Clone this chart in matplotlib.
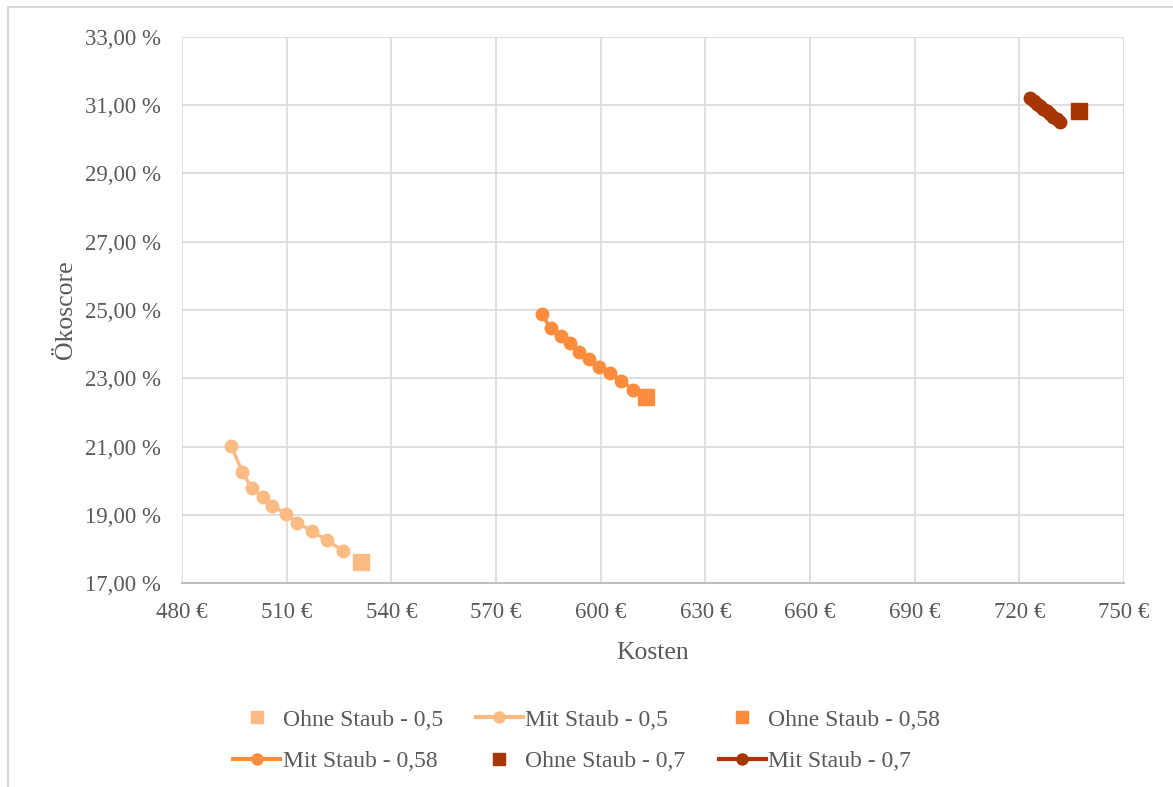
import matplotlib
matplotlib.use("Agg")
import matplotlib.pyplot as plt
from matplotlib.lines import Line2D
from matplotlib.ticker import FuncFormatter

plt.rcParams['font.family'] = ['Liberation Serif', 'DejaVu Serif']

# Kosten (EUR) und Ökoscore (%) je Variante
mit_05_kosten = [494.1, 497.3, 500.0, 503.1, 505.9, 509.8, 513.0, 517.2, 521.5, 526.1]
mit_05_score = [21.01, 20.25, 19.78, 19.52, 19.26, 19.02, 18.77, 18.52, 18.25, 17.95]
ohne_05_kosten = [531.2]
ohne_05_score = [17.62]

mit_058_kosten = [583.1, 585.7, 588.5, 591.2, 593.9, 596.7, 599.6, 602.7, 605.8, 609.4]
mit_058_score = [24.87, 24.46, 24.24, 24.02, 23.78, 23.57, 23.34, 23.15, 22.91, 22.67]
ohne_058_kosten = [613.0]
ohne_058_score = [22.46]

mit_07_kosten = [723.2, 724.1, 725.0, 726.0, 726.9, 727.8, 728.8, 729.8, 730.7, 731.6]
mit_07_score = [31.20, 31.12, 31.05, 30.97, 30.90, 30.82, 30.74, 30.67, 30.59, 30.52]
ohne_07_kosten = [737.1]
ohne_07_score = [30.84]

labels = ["Ohne Staub - 0,5", "Mit Staub - 0,5", "Ohne Staub - 0,58",
          "Mit Staub - 0,58", "Ohne Staub - 0,7", "Mit Staub - 0,7"]

hell = "#FDBB84"
mittel = "#FD8D3C"
dunkel = "#A63603"
textfarbe = "#595959"

fig = plt.figure(figsize=(11.73, 7.87), dpi=100)
ax = fig.add_axes([0.1552, 0.2592, 0.803, 0.6938])

# Rahmen links und oben
fig.add_artist(Line2D([0.007, 0.007], [0.0, 0.991], transform=fig.transFigure,
                      color="#D9D9D9", linewidth=1.5))
fig.add_artist(Line2D([0.007, 1.0], [0.991, 0.991], transform=fig.transFigure,
                      color="#D9D9D9", linewidth=1.5))

ax.plot(mit_05_kosten, mit_05_score, color=hell, lw=2.5, marker='o', ms=9, zorder=3)
ax.plot(ohne_05_kosten, ohne_05_score, color=hell, ls='none', marker='s', ms=12, zorder=3)
ax.plot(mit_058_kosten, mit_058_score, color=mittel, lw=2.5, marker='o', ms=9, zorder=3)
ax.plot(ohne_058_kosten, ohne_058_score, color=mittel, ls='none', marker='s', ms=12, zorder=3)
ax.plot(mit_07_kosten, mit_07_score, color=dunkel, lw=2.5, marker='o', ms=9, zorder=3)
ax.plot(ohne_07_kosten, ohne_07_score, color=dunkel, ls='none', marker='s', ms=12, zorder=3)

ax.set_xlim(480, 750)
ax.set_ylim(17, 33)
ax.set_xticks(range(480, 751, 30))
ax.set_yticks(range(17, 34, 2))
ax.xaxis.set_major_formatter(FuncFormatter(lambda v, p: f"{v:.0f} €"))
ax.yaxis.set_major_formatter(FuncFormatter(lambda v, p: f"{v:.2f} %".replace('.', ',')))
ax.grid(True, color="#D9D9D9", linewidth=1.2)
ax.set_axisbelow(True)
for s in ['top', 'right', 'left']:
    ax.spines[s].set_visible(False)
ax.spines['bottom'].set_color("#BFBFBF")
ax.spines['bottom'].set_linewidth(1.5)
ax.tick_params(axis='y', length=0, labelsize=16.5, colors=textfarbe, pad=15)
ax.tick_params(axis='x', length=0, labelsize=16.5, colors=textfarbe, pad=14)
ax.set_xlabel("Kosten", fontsize=18.5, color=textfarbe, labelpad=13)
ax.set_ylabel("Ökoscore", fontsize=18.5, color=textfarbe, labelpad=6)

# Legende zeilenweise anordnen
handles = [
    Line2D([], [], color=hell, ls='none', marker='s', ms=9),
    Line2D([], [], color=hell, lw=3, marker='o', ms=8),
    Line2D([], [], color=mittel, ls='none', marker='s', ms=9),
    Line2D([], [], color=mittel, lw=3, marker='o', ms=8),
    Line2D([], [], color=dunkel, ls='none', marker='s', ms=9),
    Line2D([], [], color=dunkel, lw=3, marker='o', ms=8),
]
order = [0, 3, 1, 4, 2, 5]
fig.legend([handles[i] for i in order], [labels[i] for i in order],
           loc='center', bbox_to_anchor=(0.5, 0.059), ncol=3, frameon=False,
           fontsize=17, handlelength=2.0, handletextpad=0.1, columnspacing=1.4,
           labelspacing=0.85, labelcolor=textfarbe)

fig.savefig("out.png", dpi=100)
